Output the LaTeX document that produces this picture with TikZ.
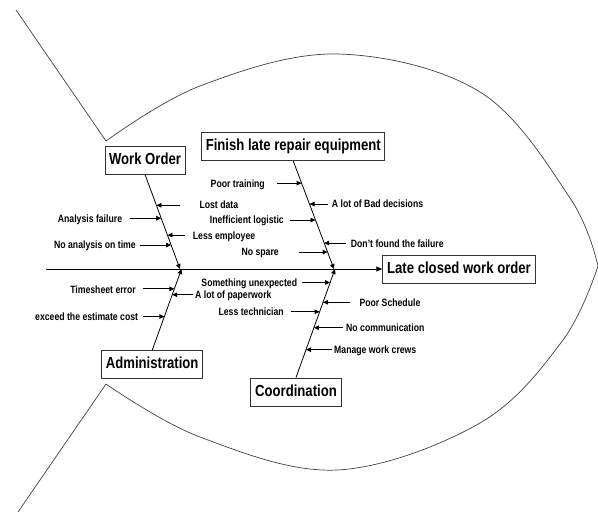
\documentclass[tikz,border=0pt]{standalone}
\usepackage{fontspec}
\setmainfont[FakeStretch=0.82]{Liberation Sans}
\usetikzlibrary{arrows.meta,calc}

\begin{document}
\begin{tikzpicture}[x=1pt,y=-1pt,
  box/.style={draw=black!80, line width=0.9pt, fill=white,
    font=\fontsize{16}{18}\selectfont\bfseries,
    minimum height=28pt, text height=11.5pt, text depth=3.3pt,
    inner xsep=0pt, inner ysep=0pt},
  lbl/.style={font=\fontsize{10.6}{12}\selectfont\bfseries,
    inner sep=0pt, text height=7.6pt, text depth=0pt},
  bone/.style={line width=0.8pt, -{Triangle[length=5pt,width=4.5pt]}},
  spine/.style={line width=0.9pt, -{Triangle[length=6pt,width=5pt]}},
  cause/.style={line width=0.8pt, {Triangle[length=5pt,width=4.5pt]}-},
  fish/.style={line width=0.7pt, draw=black!75},
]
\useasboundingbox (0,0) rectangle (598,512);

% fish outline: tail and body
\draw[fish] (16,10) -- (106,141);
\draw[fish] plot[smooth, tension=0.6] coordinates
  {(106,141) (200,86) (337,54) (480,92) (570,198) (598,266)};
\draw[fish] (18,512) -- (106,384);
\draw[fish] plot[smooth, tension=0.6] coordinates
  {(106,384) (200,437) (337,470) (480,423) (563,340) (598,266)};

% head and category boxes
\node[box, minimum width=152.6pt] (late) at (459,269) {Late closed work order};
\node[box, minimum width=80pt]    (wo)   at (145,160) {Work Order};
\node[box, minimum width=183pt]   (fi)   at (293.3,146.7) {Finish late repair equipment};
\node[box, minimum width=101pt]   (ad)   at (152.2,364.7) {Administration};
\node[box, minimum width=90.6pt]  (co)   at (296,392) {Coordination};

% spine and junctions
\coordinate (spineL) at (46,269);
\coordinate (woj) at (180,269);
\coordinate (fij) at (334,269);
\coordinate (adj) at (181.5,269);
\coordinate (coj) at (335,269);
\draw[spine] (spineL) -- (late.west);

% main bones
\draw[bone] (wo.south) -- (woj);
\draw[bone] (fi.south) -- (fij);
\draw[bone] (ad.north) -- (adj);
\draw[bone] (co.north) -- (coj);

% Work Order causes
\draw[cause] ($(wo.south)!0.326!(woj)$) -- ++(23.6,0);
\draw[cause] ($(wo.south)!0.463!(woj)$) -- ++(-31.2,0);
\draw[cause] ($(wo.south)!0.642!(woj)$) -- ++(17.5,0);
\draw[cause] ($(wo.south)!0.747!(woj)$) -- ++(-31.2,0);
\node[lbl, anchor=west] (c1) at (199.3,205)   {Lost data};
\node[lbl, anchor=east] (c2) at (122.3,218.3) {Analysis failure};
\node[lbl, anchor=west] (c3) at (192.7,235.3) {Less employee};
\node[lbl, anchor=east] (c4) at (136,245)     {No analysis on time};

% Finish late repair equipment causes
\draw[cause] ($(fi.south)!0.204!(fij)$) -- ++(-24.8,0);
\draw[cause] ($(fi.south)!0.398!(fij)$) -- ++(18.4,0);
\draw[cause] ($(fi.south)!0.546!(fij)$) -- ++(-25.9,0);
\draw[cause] ($(fi.south)!0.759!(fij)$) -- ++(22.3,0);
\draw[cause] ($(fi.south)!0.843!(fij)$) -- ++(-28.4,0);
\node[lbl, anchor=east] (c5) at (265,183.3)   {Poor training};
\node[lbl, anchor=west] (c6) at (331.7,204)   {A lot of Bad decisions};
\node[lbl, anchor=east] (c7) at (284,220)     {Inefficient logistic};
\node[lbl, anchor=west] (c8) at (350.7,243.3) {Don't found the failure};
\node[lbl, anchor=east] (c9) at (279,251.7)   {No spare};

% Administration causes
\draw[cause] ($(ad.north)!0.756!(adj)$) -- ++(-31.7,0);
\draw[cause] ($(ad.north)!0.683!(adj)$) -- ++(21,0);
\draw[cause] ($(ad.north)!0.415!(adj)$) -- ++(-21.8,0);
\node[lbl, anchor=east] (c10) at (136,289.3)   {Timesheet error};
\node[lbl, anchor=west] (c11) at (195,295)     {A lot of paperwork};
\node[lbl, anchor=east] (c12) at (138.3,316.7) {exceed the estimate cost};

% Coordination causes
\draw[cause] ($(co.north)!0.876!(coj)$) -- ++(-28.5,0);
\draw[cause] ($(co.north)!0.693!(coj)$) -- ++(27,0);
\draw[cause] ($(co.north)!0.606!(coj)$) -- ++(-28.6,0);
\draw[cause] ($(co.north)!0.459!(coj)$) -- ++(29.4,0);
\draw[cause] ($(co.north)!0.257!(coj)$) -- ++(25.7,0);
\node[lbl, anchor=east] (c13) at (297.3,282.3) {Something unexpected};
\node[lbl, anchor=west] (c14) at (359.3,302.3) {Poor Schedule};
\node[lbl, anchor=east] (c15) at (284,311.7)   {Less technician};
\node[lbl, anchor=west] (c16) at (346,327.7)   {No communication};
\node[lbl, anchor=west] (c17) at (334,350)     {Manage work crews};
\end{tikzpicture}
\end{document}
